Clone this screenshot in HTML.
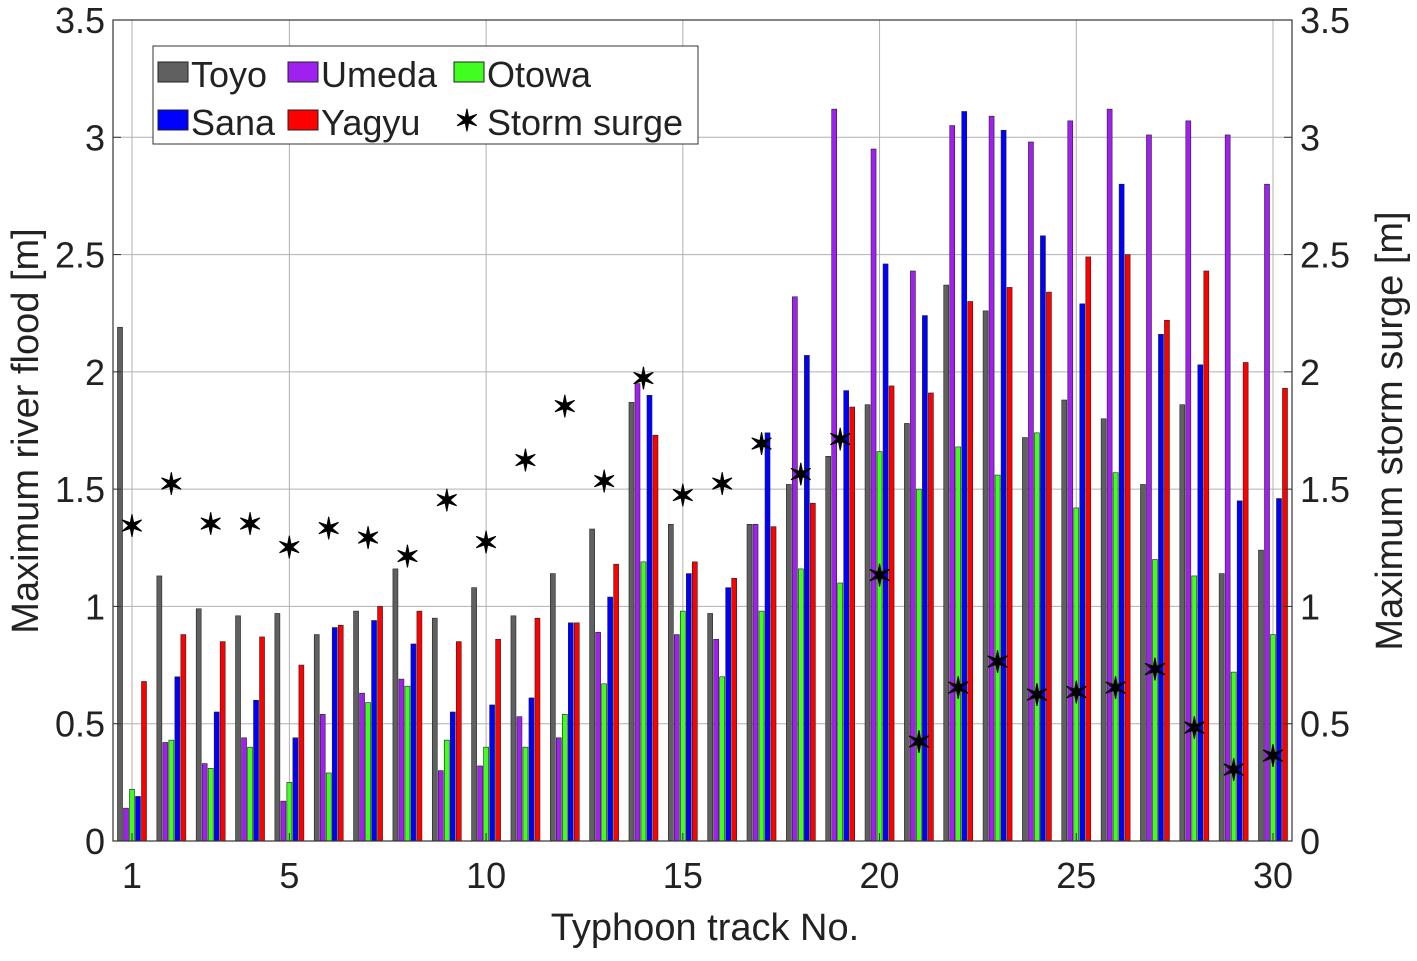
<!DOCTYPE html>
<html><head><meta charset="utf-8"><style>
body{margin:0;background:#fff;}
svg text{font-family:"Liberation Sans",Arial,sans-serif;fill:#222;}
</style></head><body>
<svg id="chart" width="1417" height="956" xmlns="http://www.w3.org/2000/svg">
<g id="grid"></g>
<g id="bars"></g>
<g id="stars"></g>
<g id="axes"></g>
<g>
<rect x="153" y="46" width="545" height="98" fill="#fff" stroke="#333" stroke-width="1"/>
<g><rect x="158" y="62" width="30" height="20" fill="#606060" stroke="#222"/><text x="191" y="87" font-size="36">Toyo</text></g>
<g><rect x="288" y="62" width="30" height="20" fill="#a020f0" stroke="#222"/><text x="321" y="87" font-size="36">Umeda</text></g>
<g><rect x="454" y="62" width="30" height="20" fill="#40ff20" stroke="#222"/><text x="487" y="87" font-size="36">Otowa</text></g>
<g><rect x="158" y="110" width="30" height="20" fill="#0000ff" stroke="#222"/><text x="191" y="135" font-size="36">Sana</text></g>
<g><rect x="288" y="110" width="30" height="20" fill="#ff0000" stroke="#222"/><text x="321" y="135" font-size="36">Yagyu</text></g>
<g><text x="467" y="131" font-size="30" font-weight="bold" text-anchor="middle" style="fill:#000">✶</text><text x="487" y="135" font-size="36">Storm surge</text></g>
</g>
<text x="705" y="940" font-size="38" text-anchor="middle">Typhoon track No.</text>
<text transform="translate(38,431) rotate(-90)" font-size="38" text-anchor="middle">Maximum river flood [m]</text>
<text transform="translate(1402,431) rotate(-90)" font-size="38" text-anchor="middle">Maximum storm surge [m]</text>
</svg>
<script>
const tracks=[1,2,3,4,5,6,7,8,9,10,11,12,13,14,15,16,17,18,19,20,21,22,23,24,25,26,27,28,29,30];
const toyo=[2.19,1.13,0.99,0.96,0.97,0.88,0.98,1.16,0.95,1.08,0.96,1.14,1.33,1.87,1.35,0.97,1.35,1.52,1.64,1.86,1.78,2.37,2.26,1.72,1.88,1.80,1.52,1.86,1.14,1.24];
const umeda=[0.14,0.42,0.33,0.44,0.17,0.54,0.63,0.69,0.30,0.32,0.53,0.44,0.89,1.95,0.88,0.86,1.35,2.32,3.12,2.95,2.43,3.05,3.09,2.98,3.07,3.12,3.01,3.07,3.01,2.80];
const otowa=[0.22,0.43,0.31,0.40,0.25,0.29,0.59,0.66,0.43,0.40,0.40,0.54,0.67,1.19,0.98,0.70,0.98,1.16,1.10,1.66,1.50,1.68,1.56,1.74,1.42,1.57,1.20,1.13,0.72,0.88];
const sana=[0.19,0.70,0.55,0.60,0.44,0.91,0.94,0.84,0.55,0.58,0.61,0.93,1.04,1.90,1.14,1.08,1.74,2.07,1.92,2.46,2.24,3.11,3.03,2.58,2.29,2.80,2.16,2.03,1.45,1.46];
const yagyu=[0.68,0.88,0.85,0.87,0.75,0.92,1.00,0.98,0.85,0.86,0.95,0.93,1.18,1.73,1.19,1.12,1.34,1.44,1.85,1.94,1.91,2.30,2.36,2.34,2.49,2.50,2.22,2.43,2.04,1.93];
const surge=[1.34,1.52,1.35,1.35,1.25,1.33,1.29,1.21,1.45,1.27,1.62,1.85,1.53,1.97,1.47,1.52,1.69,1.56,1.71,1.13,0.42,0.65,0.76,0.62,0.63,0.65,0.73,0.48,0.30,0.36];
const yTicks=[0,0.5,1,1.5,2,2.5,3,3.5];
const xTicks=[1,5,10,15,20,25,30];
const L=113,R=1292,T=20,B=841;
const xs=v=>132+(v-1)*(1273-132)/29;
const ys=v=>B-v*(B-T)/3.5;
const NS="http://www.w3.org/2000/svg";
function mk(tag,attrs,parent){const e=document.createElementNS(NS,tag);for(const k in attrs)e.setAttribute(k,attrs[k]);document.getElementById(parent).appendChild(e);return e;}
yTicks.forEach(v=>{const g=mk('line',{x1:L,x2:R,y1:ys(v),y2:ys(v),stroke:'#b0b0b0','stroke-width':1},'grid');


const t=mk('text',{x:L-8,y:ys(v)+13,'font-size':36,'text-anchor':'end'},'axes');t.textContent=v;


const t2=mk('text',{x:R+8,y:ys(v)+13,'font-size':36},'axes');t2.textContent=v;


mk('line',{x1:L,x2:L+8,y1:ys(v),y2:ys(v),stroke:'#333'},'axes');
mk('line',{x1:R-8,x2:R,y1:ys(v),y2:ys(v),stroke:'#333'},'axes');});
xTicks.forEach(v=>{const g=mk('line',{x1:xs(v),x2:xs(v),y1:T,y2:B,stroke:'#b0b0b0','stroke-width':1},'grid');


const t=mk('text',{x:xs(v),y:B+47,'font-size':36,'text-anchor':'middle'},'axes');t.textContent=v;


mk('line',{x1:xs(v),x2:xs(v),y1:B-8,y2:B,stroke:'#333'},'axes');});
const series=[[toyo,'#606060','toyo'],[umeda,'#a020f0','umeda'],[otowa,'#40ff20','otowa'],[sana,'#0000ff','sana'],[yagyu,'#ff0000','yagyu']];
series.forEach((s,si)=>{s[0].forEach((v,i)=>{const cx=xs(tracks[i])+(si-2)*6;
const r=mk('rect',{x:cx-2.5,y:ys(v),width:5,height:B-ys(v),fill:s[1],stroke:'#222','stroke-width':0.6},'bars');

});});
surge.forEach((v,i)=>{const t=mk('text',{x:xs(tracks[i]),y:ys(v)+10,'font-size':30,'font-weight':'bold','text-anchor':'middle',style:'fill:#000'},'stars');t.textContent='✶';

});
const box=mk('rect',{x:L,y:T,width:R-L,height:B-T,fill:'none',stroke:'#333','stroke-width':1.2},'axes');


</script>
</body></html>
